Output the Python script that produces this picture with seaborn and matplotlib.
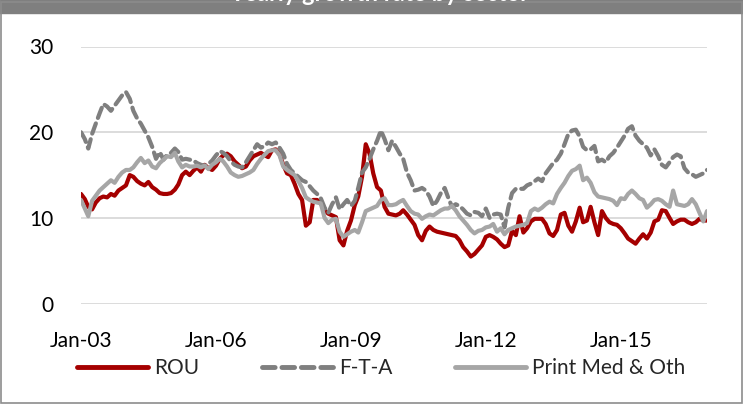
import numpy as np
import pandas as pd
import matplotlib
matplotlib.use("Agg")
import matplotlib.pyplot as plt
import matplotlib.dates as mdates
from matplotlib.patches import Rectangle
import seaborn as sns

# monthly values, Jan-03 .. Dec-16
MONTHS = pd.date_range("2003-01-01", "2016-12-01", freq="MS")

ROU = [
    12.8, 12.2, 11.3, 11.0, 11.8, 12.3, 12.5, 12.4, 12.8, 12.6, 13.2, 13.5,
    13.8, 15.0, 14.8, 14.3, 14.0, 13.8, 14.2, 13.6, 13.3, 12.9, 12.8, 12.8,
    12.9, 13.3, 13.9, 15.0, 15.4, 15.0, 15.5, 15.9, 15.4, 16.2, 15.8, 15.6,
    16.1, 16.9, 17.3, 17.5, 17.2, 16.6, 16.2, 15.8, 16.0, 16.7, 17.2, 17.4,
    17.6, 17.3, 17.1, 17.9, 18.0, 17.5, 16.2, 15.2, 15.0, 14.0, 12.8, 12.1,
    9.1, 9.5, 12.1, 12.1, 11.7, 10.9, 10.5, 10.3, 10.1, 7.4, 6.8, 8.5,
    9.7, 11.5, 12.5, 14.8, 18.6, 17.5, 15.2, 13.6, 13.2, 11.3, 10.5, 10.4,
    10.3, 10.5, 10.9, 10.4, 9.8, 9.2, 8.0, 7.4, 8.5, 9.0, 8.6, 8.4,
    8.3, 8.2, 8.1, 8.0, 7.9, 7.4, 6.6, 6.1, 5.5, 5.8, 6.3, 6.8,
    7.8, 8.0, 7.8, 7.5, 7.0, 6.6, 6.8, 8.5, 8.0, 10.2, 8.3, 8.8,
    9.6, 9.9, 9.9, 9.9, 9.3, 8.2, 7.9, 8.6, 10.4, 10.6, 9.1, 8.4,
    9.6, 11.2, 9.5, 9.7, 11.3, 9.5, 8.0, 10.8, 10.0, 9.5, 9.3, 9.2,
    8.8, 8.2, 7.6, 7.3, 7.0, 7.6, 8.1, 7.6, 8.3, 9.6, 9.8, 10.9,
    10.8, 10.0, 9.3, 9.6, 9.8, 9.8, 9.5, 9.3, 9.5, 9.9, 9.7, 9.7,
]

FTA = [
    20.0, 19.2, 18.1, 19.8, 21.0, 22.2, 23.3, 23.0, 22.5, 23.1, 23.7, 24.3,
    24.7, 23.9, 22.5, 21.6, 21.0, 20.2, 19.4, 18.3, 16.9, 17.7, 16.8, 17.4,
    17.6, 18.1, 17.7, 16.8, 16.9, 16.8, 16.7, 16.4, 16.2, 16.1, 16.3, 16.7,
    17.3, 17.8, 17.6, 17.2, 16.6, 16.2, 16.0, 15.9, 16.5, 17.2, 17.9, 18.6,
    18.2, 18.4, 18.8, 18.6, 18.8, 18.2, 17.5, 16.3, 15.6, 15.2, 14.8, 14.4,
    14.2, 13.7, 13.2, 12.8, 12.3, 11.2, 10.6, 11.6, 12.4, 11.0, 11.6, 12.1,
    11.4, 12.0, 13.5, 15.3, 15.9, 16.9, 18.0, 19.0, 20.2, 19.2, 17.9, 19.0,
    18.3, 17.5, 16.9, 15.3, 14.4, 13.2, 13.3, 13.5, 13.2, 12.5, 11.4, 12.0,
    12.9, 13.5, 12.4, 11.3, 11.6, 11.4, 11.0, 10.5, 10.3, 10.7, 10.6, 10.2,
    11.1, 10.0, 10.4, 10.5, 10.4, 8.9, 11.2, 12.9, 13.4, 13.4, 13.4, 13.8,
    14.0, 14.3, 14.6, 14.3, 15.2, 15.8, 16.4, 16.8, 17.5, 18.6, 19.8, 20.2,
    20.3, 19.5, 18.3, 17.9, 18.0, 18.4, 16.6, 16.8, 16.5, 17.2, 17.6, 18.2,
    18.9, 19.6, 20.4, 20.7, 19.6, 19.0, 18.6, 18.2, 17.3, 18.0, 17.2, 16.2,
    15.9, 16.5, 17.1, 17.4, 17.2, 15.8, 15.3, 15.1, 14.8, 15.0, 15.2, 15.6,
]

PRINT = [
    12.1, 11.1, 10.2, 12.0, 12.6, 13.2, 13.6, 14.0, 14.4, 14.1, 14.8, 15.3,
    15.6, 15.6, 15.9, 16.5, 17.0, 16.4, 16.7, 16.0, 15.8, 16.4, 16.8, 17.2,
    17.1, 17.6, 16.6, 15.9, 16.2, 16.0, 16.0, 16.1, 15.9, 16.1, 15.7, 16.2,
    16.5, 16.9, 16.6, 16.0, 15.3, 15.0, 14.8, 14.9, 15.1, 15.3, 15.6, 16.3,
    16.9, 17.4, 17.8, 17.9, 17.9, 17.3, 16.0, 15.6, 15.3, 15.0, 14.3, 13.5,
    12.4, 12.1, 11.9, 11.8, 11.7, 10.0, 9.4, 9.8, 9.9, 8.4, 7.8, 8.1,
    8.4, 8.6, 8.3, 9.5, 10.8, 11.0, 11.2, 11.4, 12.1, 12.3, 11.5, 11.5,
    11.6, 11.9, 12.1, 11.4, 10.8, 10.5, 10.4, 9.9, 10.2, 10.4, 10.3, 10.6,
    10.9, 11.1, 11.1, 11.4, 10.9, 10.2, 9.7, 9.2, 8.6, 8.2, 8.5, 8.6,
    8.9, 9.0, 9.3, 8.4, 8.8, 8.1, 8.6, 8.8, 9.0, 9.1, 9.2, 9.4,
    10.8, 11.1, 10.9, 11.2, 11.6, 11.9, 11.7, 12.8, 13.5, 14.1, 14.9, 15.5,
    15.7, 16.1, 14.4, 14.7, 14.1, 13.0, 12.5, 12.4, 12.3, 12.2, 12.0, 11.5,
    12.3, 12.2, 12.8, 13.2, 12.8, 12.3, 12.1, 11.2, 11.6, 12.1, 12.2, 12.0,
    11.6, 11.3, 13.2, 11.6, 11.5, 11.4, 11.6, 12.2, 11.6, 10.6, 9.6, 10.8,
]

SERIES_NAMES = ["ROU", "F-T-A", "Print Med & Oth"]
PALETTE = {"ROU": "#a50000", "F-T-A": "#7f7f7f", "Print Med & Oth": "#a6a6a6"}
DASHES = {"ROU": "", "F-T-A": (2.6, 1.4), "Print Med & Oth": ""}
YTICKS = [0, 10, 20, 30]
XTICK_YEARS = [2003, 2006, 2009, 2012, 2015]
TITLE = "Yearly growth rate by sector"

df = pd.DataFrame({
    "date": np.tile(MONTHS, 3),
    "value": ROU + FTA + PRINT,
    "series": np.repeat(SERIES_NAMES, len(MONTHS)),
})

sns.set_style("white")
plt.rcParams["font.family"] = ["Lato", "DejaVu Sans"]

W, H = 743, 405
fig = plt.figure(figsize=(W / 100, H / 100), dpi=100)
ax = fig.add_axes([81 / W, 1 - 303.7 / H, 626 / W, 257.2 / H])

sns.lineplot(
    data=df, x="date", y="value",
    hue="series", style="series",
    palette=PALETTE, dashes=DASHES,
    hue_order=SERIES_NAMES, style_order=SERIES_NAMES,
    linewidth=3, solid_capstyle="round", solid_joinstyle="round",
    dash_capstyle="round", ax=ax,
)
handles, labels = ax.get_legend_handles_labels()
ax.get_legend().remove()

ax.set_xlim(MONTHS[0], MONTHS[-1])
ax.set_ylim(0, 30)
ax.set_yticks(YTICKS)
ax.set_xticks([pd.Timestamp(f"{y}-01-01") for y in XTICK_YEARS])
ax.xaxis.set_major_formatter(mdates.DateFormatter("%b-%y"))
ax.tick_params(axis="both", length=0, labelsize=15, colors="black")
ax.tick_params(axis="x", pad=20)
ax.tick_params(axis="y", pad=20)
ax.set_xlabel("")
ax.set_ylabel("")
ax.grid(axis="y", color="#d9d9d9", linewidth=1.3)
ax.grid(axis="x", visible=False)
ax.set_axisbelow(True)
for s in ax.spines.values():
    s.set_visible(False)

leg = fig.legend(
    handles, labels, loc="center", bbox_to_anchor=(381 / W, 1 - 368 / H),
    ncol=3, frameon=False, fontsize=15, handlelength=3.4,
    handletextpad=0.3, columnspacing=3.0,
)
for h in leg.get_lines():
    h.set_linewidth(3.5)

# grey title band; the title itself runs off the top edge as in the source
fig.add_artist(Rectangle((0, 1 - 13 / H), 1, 13 / H, transform=fig.transFigure,
                         color="#7f7f7f", zorder=0))
fig.text(0.51, 1 - 1 / H, TITLE, ha="center", va="baseline", color="white",
         fontsize=17, fontweight="bold")
# outer frame
fig.add_artist(Rectangle((0.001, 0.004), 0.998, 0.99, transform=fig.transFigure,
                         fill=False, edgecolor="#8c8c8c", linewidth=1.2))

fig.savefig("out.png", dpi=100)
